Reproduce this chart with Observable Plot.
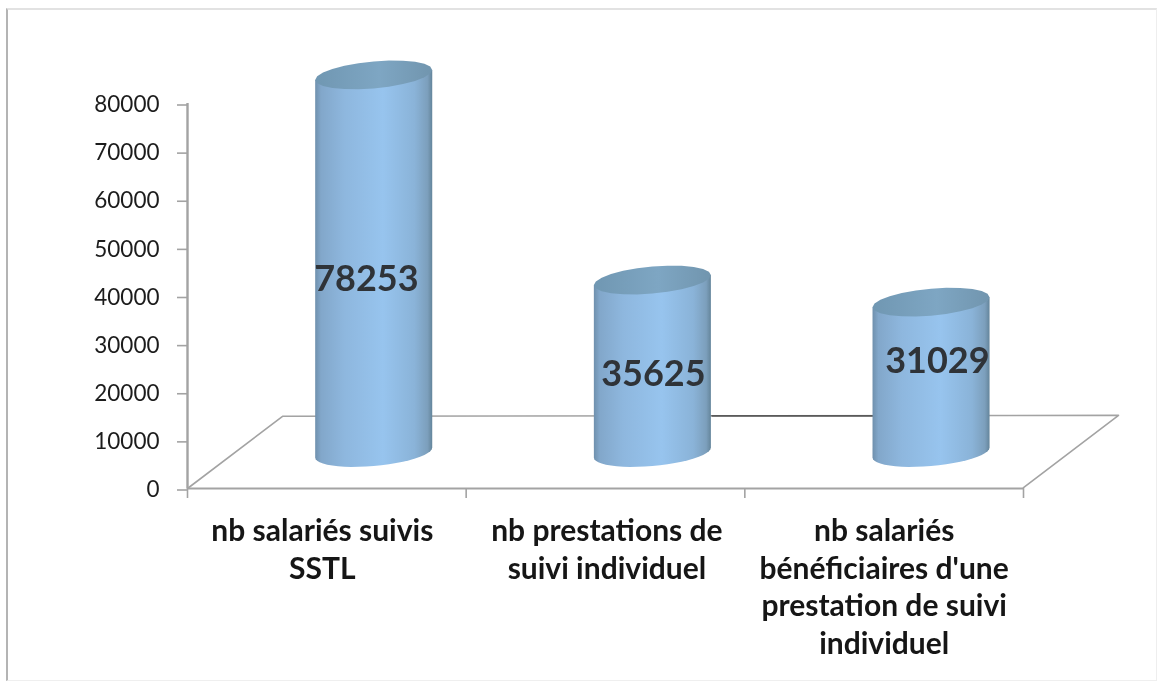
<!DOCTYPE html>
<html>
<head>
<meta charset="utf-8">
<script src="https://cdn.jsdelivr.net/npm/d3@7"></script>
<script src="https://cdn.jsdelivr.net/npm/@observablehq/plot@0.6"></script>
<style>
  html, body { margin: 0; padding: 0; background: #fff; width: 1162px; height: 688px; overflow: hidden; }
  #page { position: relative; width: 1162px; height: 688px; }
  #box { position: absolute; left: 6px; top: 8px; width: 1151px; height: 673px; box-sizing: border-box;
         border-left: 2px solid #b4b4b4; border-top: 2px solid #e2e2e2; border-right: 1px solid #eeeeee; border-bottom: 1px solid #efefef; }
  svg { position: absolute; left: 0; top: 0; filter: blur(0.45px); }
</style>
</head>
<body>
<div id="page"><div id="box"></div></div>
<script>
const categories = [
  "nb salariés suivis\nSSTL",
  "nb prestations de\nsuivi individuel",
  "nb salariés\nbénéficiaires d'une\nprestation de suivi\nindividuel"
];
const values = [78253, 35625, 31029];
const yTicks = [0, 10000, 20000, 30000, 40000, 50000, 60000, 70000, 80000];
const xTicks = [0, 1, 2, 3];

// where the hand-placed labels sit, in scale units
const labelX = [0.642, 1.672, 2.691];
const labelY = [43400, 23700, 26400];
const categoryX = [0.484, 1.505, 2.5];
const table = values.map((v, i) => ({v, i, cat: categories[i]}));

const FONT = "Lato, 'Open Sans', sans-serif";
const AXIS = "#a3a3a3";

function gradients() {
  const g = document.createElementNS("http://www.w3.org/2000/svg", "g");
  g.innerHTML = `<defs>
    <linearGradient id="body" x1="0" x2="1" y1="0" y2="0">
      <stop offset="0" stop-color="#6f90ad"/><stop offset="0.05" stop-color="#82a7ca"/>
      <stop offset="0.25" stop-color="#8eb7de"/><stop offset="0.58" stop-color="#97c4ee"/>
      <stop offset="0.85" stop-color="#8ab3d8"/><stop offset="0.96" stop-color="#7c9fbc"/>
      <stop offset="1" stop-color="#64859b"/>
    </linearGradient>
    <linearGradient id="cap" x1="0" x2="1" y1="0" y2="0">
      <stop offset="0" stop-color="#7097b2"/><stop offset="0.55" stop-color="#7ea6c3"/>
      <stop offset="1" stop-color="#7195ae"/>
    </linearGradient></defs>`;
  return g;
}

// Turns each bar of the scale-positioned rect mark into a tilted cylinder.
function cylinder(index, scales, vals, dims, ctx, next) {
  const g = next(index, scales, vals, dims, ctx);
  const ns = "http://www.w3.org/2000/svg";
  const TILT = 5, BULGE = 13.5;
  // part of a sheared ellipse between the two side edges, from t0 to t1
  const arc = (cx, cy, hw, t0, t1) => d3.range(0, 25).map(k => {
    const t = t0 + (t1 - t0) * k / 24;
    return `${cx + hw * Math.cos(t)},${cy - TILT * Math.cos(t) + BULGE * Math.sin(t)}`;
  });
  g.querySelectorAll("rect").forEach(r => {
    const x = +r.getAttribute("x"), y = +r.getAttribute("y");
    const w = +r.getAttribute("width"), h = +r.getAttribute("height");
    const cx = x + w / 2, hw = w / 2, yb = y + h + 1;
    const body = document.createElementNS(ns, "path");
    body.setAttribute("d", "M" + [`${x},${y + TILT}`, `${x + w},${y - TILT}`, ...arc(cx, yb, hw, 0, Math.PI)].join("L") + "Z");
    body.setAttribute("fill", "url(#body)");
    const cap = document.createElementNS(ns, "path");
    cap.setAttribute("d", "M" + arc(cx, y, hw, 0, 2 * Math.PI).join("L") + "Z");
    cap.setAttribute("fill", "url(#cap)");
    r.replaceWith(body, cap);
  });
  return g;
}

const chart = Plot.plot({
  width: 1162,
  height: 688,
  marginLeft: 187,
  marginRight: 139,
  marginTop: 103,
  marginBottom: 200,
  style: {background: "transparent", fontFamily: FONT},
  x: {domain: [0, 3]},
  y: {domain: [0, 80000]},
  marks: [
    gradients,
    // floor of the 3-D plot
    Plot.line([[0, 0], [0.341, 15000], [3.341, 15200], [3, 200]],
      {x: d => d[0], y: d => d[1], stroke: AXIS, strokeWidth: 1.6}),
    Plot.line([[1.882, 15100], [2.47, 15100]],
      {x: d => d[0], y: d => d[1], stroke: "#5a5a5a", strokeWidth: 1.6}),
    Plot.axisY({
      ticks: yTicks, tickFormat: d => String(d), tickSize: 10, tickPadding: 18,
      stroke: AXIS, strokeWidth: 1.6, fill: "#1c1c1c", fontSize: 22.5, label: null, dy: 1.5
    }),
    Plot.axisX({
      ticks: xTicks, tickFormat: () => "", tickSize: 10, stroke: AXIS, strokeWidth: 1.6, label: null
    }),
    Plot.ruleX([0], {stroke: AXIS, strokeWidth: 2.4}),
    Plot.ruleY([0], {stroke: AXIS, strokeWidth: 2}),
    Plot.rect(table, {
      x1: d => d.i + 0.46,
      x2: d => d.i + 0.88,
      y1: () => 0,
      y2: d => d.v,
      dy: -36.5,
      fill: "#8db5de",
      render: cylinder
    }),
    Plot.text(table, {
      x: d => labelX[d.i],
      y: d => labelY[d.i],
      text: d => String(d.v),
      fontSize: 36,
      fontWeight: 700,
      fill: "#2f3338"
    }),
    Plot.text(table, {
      x: d => categoryX[d.i],
      y: () => 0,
      text: "cat",
      dy: 26,
      lineAnchor: "top",
      lineHeight: 1.25,
      textAnchor: "middle",
      fontSize: 30,
      fontWeight: 700,
      fill: "#161616"
    })
  ]
});
document.getElementById("page").appendChild(chart);
</script>
</body>
</html>
